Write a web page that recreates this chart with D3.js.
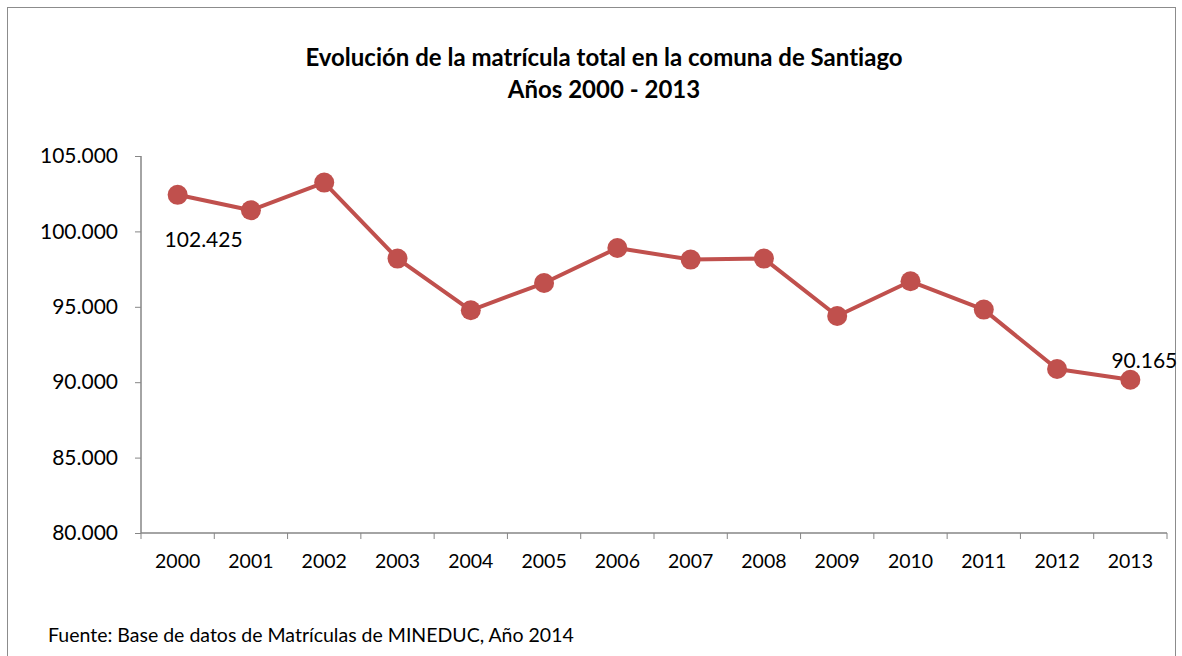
<!DOCTYPE html>
<html>
<head>
<meta charset="utf-8">
<script src="https://cdn.jsdelivr.net/npm/d3@7"></script>
<style>
  body { margin: 0; background: #fff; }
  svg text { font-family: Lato, 'Open Sans', sans-serif; fill: #000; font-variant-ligatures: none; }
</style>
</head>
<body>
<div class="container"></div>
<script>
var years = ['2000','2001','2002','2003','2004','2005','2006','2007','2008','2009','2010','2011','2012','2013'];
var matricula = [102425, 101400, 103236, 98196, 94768, 96578, 98899, 98130, 98196, 94390, 96691, 94814, 90875, 90165];
var yTicks = [80000, 85000, 90000, 95000, 100000, 105000];
var titleLines = ['Evolución de la matrícula total en la comuna de Santiago', 'Años 2000 - 2013'];
var source = 'Fuente: Base de datos de Matrículas de MINEDUC, Año 2014';

var w = 1182;
var h = 656;
var margin = { top: 156, right: 15, bottom: 123, left: 141 };

var svg = d3.select('.container')
  .append('svg')
  .attr('width', w)
  .attr('height', h);

/* ===== FRAME ===== */
svg.append('rect')
  .attr('x', 7.5)
  .attr('y', 7.5)
  .attr('width', 1168)
  .attr('height', 700)
  .attr('fill', 'none')
  .attr('stroke', '#8c8c8c')
  .attr('stroke-width', 1);

/* ===== SCALES ===== */
var xScale = d3.scaleBand()
  .domain(years)
  .range([margin.left, w - margin.right]);

var yScale = d3.scaleLinear()
  .domain([80000, 105000])
  .range([h - margin.bottom, margin.top]);

var fmt = function(v) { return d3.format(',')(v).replace(/,/g, '.'); };

/* ===== AXES ===== */
var xAxis = svg.append('g')
  .attr('transform', 'translate(0,' + (h - margin.bottom) + ')')
  .call(d3.axisBottom(xScale).tickSize(0).tickPadding(21));
xAxis.select('.domain').attr('stroke', '#868686').attr('stroke-width', 1.5);
xAxis.selectAll('text').style('font-size', '19.5px').attr('font-family', null);

// tick marks between categories
svg.append('g')
  .selectAll('line')
  .data(years.concat(['end']))
  .enter()
  .append('line')
  .attr('x1', function(d, i) { return i < years.length ? xScale(d) : xScale.range()[1]; })
  .attr('x2', function(d, i) { return i < years.length ? xScale(d) : xScale.range()[1]; })
  .attr('y1', h - margin.bottom)
  .attr('y2', h - margin.bottom + 6)
  .attr('stroke', '#868686')
  .attr('stroke-width', 1);

var yAxis = svg.append('g')
  .attr('transform', 'translate(' + margin.left + ',0)')
  .call(d3.axisLeft(yScale).tickValues(yTicks).tickSize(6).tickPadding(17).tickFormat(fmt));
yAxis.selectAll('.tick line').attr('stroke', '#868686');
yAxis.selectAll('text').style('font-size', '21px').attr('font-family', null);
xAxis.select('.domain').attr('d', 'M' + margin.left + ',0H' + (w - margin.right));
yAxis.select('.domain')
  .attr('stroke', '#868686').attr('stroke-width', 1.5)
  .attr('d', 'M0,' + (h - margin.bottom) + 'V' + margin.top);

/* ===== LINE ===== */
var line = d3.line()
  .x(function(d, i) { return xScale(years[i]) + xScale.bandwidth() / 2; })
  .y(function(d) { return yScale(d); });

svg.append('path')
  .datum(matricula)
  .attr('d', line)
  .attr('fill', 'none')
  .attr('stroke', '#C0504D')
  .attr('stroke-width', 4)
  .attr('stroke-linejoin', 'round');

svg.append('g')
  .selectAll('circle')
  .data(matricula)
  .enter()
  .append('circle')
  .attr('cx', function(d, i) { return xScale(years[i]) + xScale.bandwidth() / 2; })
  .attr('cy', function(d) { return yScale(d); })
  .attr('r', 10)
  .attr('fill', '#C0504D');

/* ===== DATA LABELS ===== */
var first = 0, last = matricula.length - 1;
svg.append('text')
  .text(fmt(matricula[first]))
  .attr('x', xScale(years[first]) + xScale.bandwidth() / 2 + 26)
  .attr('y', yScale(matricula[first]) + 52)
  .attr('text-anchor', 'middle')
  .style('font-size', '21px');

svg.append('text')
  .text(fmt(matricula[last]))
  .attr('x', xScale(years[last]) + xScale.bandwidth() / 2 + 14)
  .attr('y', yScale(matricula[last]) - 12)
  .attr('text-anchor', 'middle')
  .style('font-size', '21px');

/* ===== TITLE ===== */
svg.append('g')
  .selectAll('text')
  .data(titleLines)
  .enter()
  .append('text')
  .text(function(d) { return d; })
  .attr('x', 604)
  .attr('y', function(d, i) { return 66 + i * 32; })
  .attr('text-anchor', 'middle')
  .style('font-size', '24px')
  .style('font-weight', 'bold');

/* ===== SOURCE ===== */
svg.append('text')
  .text(source)
  .attr('x', 48)
  .attr('y', 642)
  .style('font-size', '19.5px');
</script>
</body>
</html>
